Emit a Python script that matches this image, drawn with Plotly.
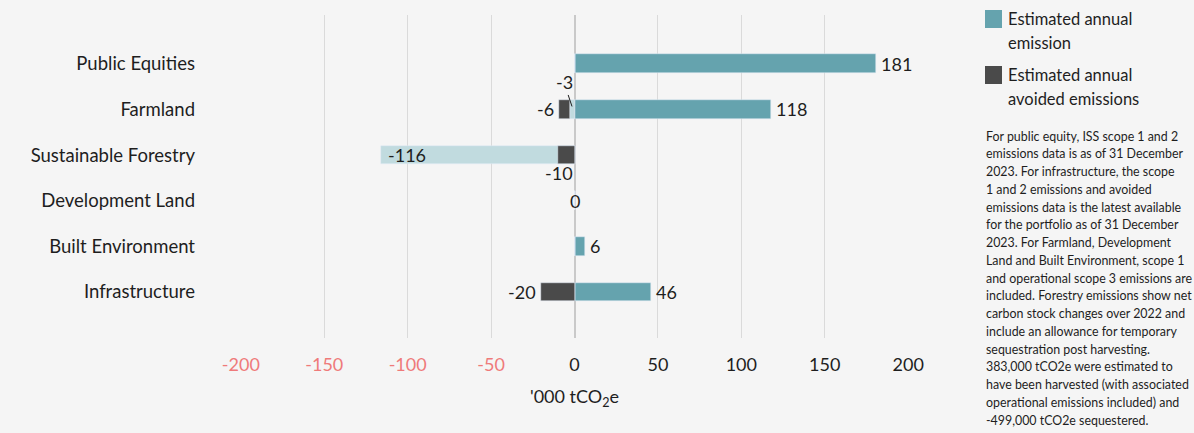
import numpy as np
import plotly.graph_objects as go

# Portfolio sectors, top to bottom
categories = ["Public Equities", "Farmland", "Sustainable Forestry",
              "Development Land", "Built Environment", "Infrastructure"]

# '000 tCO2e
emission = [181, 118, 0, 0, 6, 46]          # positive annual emissions
sequestration = [0, -3, -116, 0, 0, 0]      # net negative emissions
avoided = [0, -6, -10, 0, 0, -20]           # avoided emissions

tick_values = [-200, -150, -100, -50, 0, 50, 100, 150, 200]

legend_labels = [["Estimated annual", "emission"],
                 ["Estimated annual", "avoided emissions"]]

note_lines = [
    "For public equity, ISS scope 1 and 2",
    "emissions data is as of 31 December",
    "2023. For infrastructure, the scope",
    "1 and 2 emissions and avoided",
    "emissions data is the latest available",
    "for the portfolio as of 31 December",
    "2023. For Farmland, Development",
    "Land and Built Environment, scope 1",
    "and operational scope 3 emissions are",
    "included. Forestry emissions show net",
    "carbon stock changes over 2022 and",
    "include an allowance for temporary",
    "sequestration post harvesting.",
    "383,000 tCO2e were estimated to",
    "have been harvested (with associated",
    "operational emissions included) and",
    "-499,000 tCO2e sequestered.",
]

TEAL = "#65a3ae"
LIGHT = "#c1dbdf"
DARK = "#4a4a4a"
NEG_TICK = "#ef7a7a"
TEXT = "#1e1e1e"
BG = "#f5f5f5"
FONT = "Lato"

# plot area in pixels, used to place the side panel in paper units
PLOT_L, PLOT_R, PLOT_T, PLOT_B = 240, 909, 15, 338


def px_x(x):
    return (x - PLOT_L) / (PLOT_R - PLOT_L)


def px_y(y):
    return (PLOT_B - y) / (PLOT_B - PLOT_T)


# avoided bars sit beyond a smaller sequestration bar, otherwise overlap it from zero
seq_arr = np.array(sequestration, dtype=float)
av_arr = np.array(avoided, dtype=float)
avoided_base = np.where(np.abs(seq_arr) < np.abs(av_arr), seq_arr, 0.0)

fig = go.Figure()
bar_w = 0.41
fig.add_trace(go.Bar(y=categories, x=emission, orientation="h", marker_color=TEAL,
                     width=bar_w, showlegend=False, hoverinfo="x+y"))
fig.add_trace(go.Bar(y=categories, x=sequestration, orientation="h", marker_color=LIGHT,
                     width=bar_w, showlegend=False, hoverinfo="x+y"))
fig.add_trace(go.Bar(y=categories, x=avoided, base=avoided_base, orientation="h",
                     marker_color=DARK, width=bar_w, showlegend=False, hoverinfo="x+y"))

ann = []
lab_font = dict(family=FONT, size=18, color=TEXT)

# positive emission labels at bar ends, "0" where a sector has nothing
for i, (c, v) in enumerate(zip(categories, emission)):
    if v > 0:
        ann.append(dict(x=v, y=c, text=str(v), xanchor="left", showarrow=False,
                        xshift=3, font=lab_font))
    elif sequestration[i] == 0 and avoided[i] == 0:
        ann.append(dict(x=0, y=c, text="0", xanchor="center", showarrow=False, font=lab_font))

# sequestration labels
for c, v in zip(categories, sequestration):
    if v == 0:
        continue
    if abs(v) >= 50:
        ann.append(dict(x=v, y=c, text=str(v), xanchor="left", showarrow=False,
                        xshift=5, font=lab_font))
    else:
        ann.append(dict(x=v / 2, y=c, text=str(v), showarrow=True, arrowhead=0,
                        arrowwidth=1, arrowcolor=TEXT, ax=-8, ay=-24, yshift=3,
                        font=lab_font))

# avoided labels
for c, v, b, s in zip(categories, avoided, avoided_base, sequestration):
    if v == 0:
        continue
    if abs(s) > abs(v):
        ann.append(dict(x=v, y=c, text=str(v), xanchor="center", yanchor="top",
                        showarrow=False, yshift=-5, xshift=1, font=lab_font))
    else:
        ann.append(dict(x=b + v, y=c, text=str(v), xanchor="right", showarrow=False,
                        xshift=-3, font=lab_font))

# legend drawn as swatches with two-line labels
shapes = []
for k, (color, lines) in enumerate(zip([TEAL, DARK], legend_labels)):
    top = 10 + 56 * k
    shapes.append(dict(type="rect", xref="paper", yref="paper",
                       x0=px_x(985), x1=px_x(1002), y0=px_y(top + 18), y1=px_y(top),
                       fillcolor=color, line_width=0))
    for j, line in enumerate(lines):
        ann.append(dict(xref="paper", yref="paper", x=px_x(1006), y=px_y(top + 9 + 24 * j),
                        text=line, xanchor="left", yanchor="middle", showarrow=False,
                        font=dict(family=FONT, size=16.5, color=TEXT)))

# explanatory note, one annotation per line
for j, line in enumerate(note_lines):
    ann.append(dict(xref="paper", yref="paper", x=px_x(984), y=px_y(136 + 17.75 * j),
                    text=line, xanchor="left", yanchor="middle", showarrow=False,
                    font=dict(family=FONT, size=12.4, color=TEXT)))

tick_text = [f'<span style="color:{NEG_TICK}">{v}</span>' if v < 0 else str(v)
             for v in tick_values]

fig.update_layout(
    width=1194, height=433,
    margin=dict(l=PLOT_L, r=1194 - PLOT_R, t=PLOT_T, b=433 - PLOT_B),
    paper_bgcolor=BG, plot_bgcolor=BG,
    barmode="overlay", bargap=0,
    font=dict(family=FONT, size=18, color=TEXT),
    annotations=ann, shapes=shapes,
    xaxis=dict(range=[-200.5, 200.5], tickvals=tick_values, ticktext=tick_text,
               showgrid=True, gridcolor="#dadada", gridwidth=1,
               zeroline=True, zerolinecolor="#c9c9c9", zerolinewidth=2,
               ticks="", ticklabelstandoff=14,
               tickfont=dict(family=FONT, size=18, color=TEXT),
               title=dict(text="'000 tCO<sub>2</sub>e", standoff=16,
                          font=dict(family=FONT, size=18, color=TEXT))),
    yaxis=dict(categoryorder="array", categoryarray=categories,
               range=[6.01, -1.07], showgrid=False, zeroline=False, ticks="",
               ticklabelstandoff=44, tickfont=dict(family=FONT, size=18.5, color=TEXT)),
)

fig.write_html("out.html")
